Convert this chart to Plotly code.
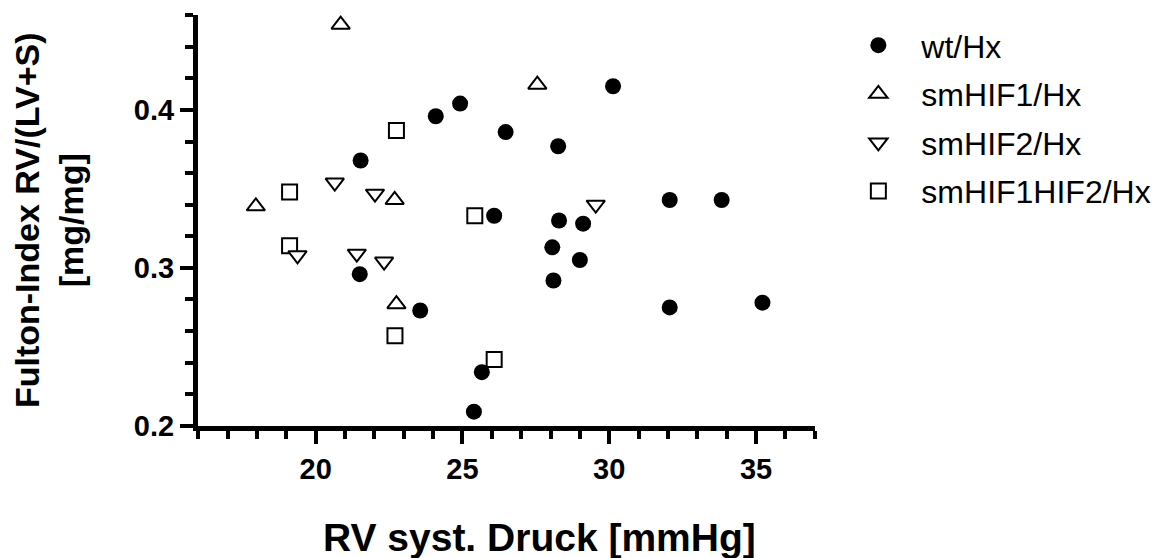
import plotly.graph_objects as go

# ---- data ----
wt_x = [21.5, 21.53, 23.56, 24.09, 24.92, 25.39, 25.66, 26.08, 26.47, 28.06,
        28.1, 28.26, 28.29, 29.0, 29.11, 30.13, 32.06, 32.06, 33.83, 35.22]
wt_y = [0.296, 0.368, 0.273, 0.396, 0.404, 0.209, 0.234, 0.333, 0.386, 0.313,
        0.292, 0.377, 0.330, 0.305, 0.328, 0.415, 0.343, 0.275, 0.343, 0.278]

hif1_x = [17.96, 20.85, 22.69, 22.75, 27.55]
hif1_y = [0.339, 0.454, 0.343, 0.277, 0.416]

hif2_x = [19.38, 20.65, 21.4, 22.02, 22.33, 29.54]
hif2_y = [0.308, 0.354, 0.309, 0.347, 0.304, 0.340]

both_x = [19.11, 19.11, 22.75, 22.7, 25.42, 26.08]
both_y = [0.348, 0.314, 0.387, 0.257, 0.333, 0.242]

names = ["wt/Hx", "smHIF1/Hx", "smHIF2/Hx", "smHIF1HIF2/Hx"]
x_title = "RV syst. Druck [mmHg]"
y_title = "Fulton-Index RV/(LV+S)<br>[mg/mg]"

FONT = "Liberation Sans, Arial, sans-serif"

fig = go.Figure()

# draw order: squares, down-triangles, up-triangles, circles; legend order via legendrank
fig.add_trace(go.Scatter(
    x=both_x, y=both_y, mode="markers", name=names[3], legendgroup="d", legendrank=4,
    marker=dict(symbol="square", size=15, color="white",
                line=dict(color="black", width=2))))
fig.add_trace(go.Scatter(
    x=hif2_x, y=hif2_y, mode="markers", name=names[2], legendgroup="c", legendrank=3,
    marker=dict(symbol="triangle-down", size=16, color="white",
                line=dict(color="black", width=2))))
fig.add_trace(go.Scatter(
    x=hif1_x, y=hif1_y, mode="markers", name=names[1], legendgroup="b", legendrank=2,
    marker=dict(symbol="triangle-up", size=16, color="white",
                line=dict(color="black", width=2))))
fig.add_trace(go.Scatter(
    x=wt_x, y=wt_y, mode="markers", name=names[0], legendgroup="a", legendrank=1,
    marker=dict(symbol="circle", size=16, color="black",
                line=dict(color="black", width=0))))

axis_common = dict(
    showline=True, linecolor="black", linewidth=5,
    ticks="outside", ticklen=13, tickwidth=4, tickcolor="black",
    showgrid=False, zeroline=False,
    tickfont=dict(family=FONT, size=29, color="black", weight="bold"),
)

fig.update_xaxes(range=[15.99, 37.01], tick0=20, dtick=5,
                 minor=dict(dtick=1, tick0=0, ticklen=8, tickwidth=3.5,
                            tickcolor="black", ticks="outside", showgrid=False),
                 **axis_common)
fig.update_yaxes(range=[0.1999, 0.4601], tick0=0.2, dtick=0.1, tickformat=".1f",
                 minor=dict(dtick=0.02, tick0=0.2, ticklen=8, tickwidth=3.5,
                            tickcolor="black", ticks="outside", showgrid=False),
                 **axis_common)

fig.update_layout(
    width=1164, height=550,
    margin=dict(l=190, r=357, t=7, b=132),
    paper_bgcolor="white", plot_bgcolor="white",
    showlegend=True,
    legend=dict(x=1.033, y=0.993, xanchor="left", yanchor="top",
                traceorder="grouped", tracegroupgap=4,
                itemwidth=76,
                font=dict(family=FONT, size=32, color="black"),
                bgcolor="rgba(0,0,0,0)", borderwidth=0),
    annotations=[
        dict(text=x_title, xref="paper", yref="paper", x=0.5527, y=-0.2725,
             xanchor="center", yanchor="middle", showarrow=False,
             font=dict(family=FONT, size=39, color="black", weight="bold")),
        dict(text=y_title, xref="paper", yref="paper", x=-0.2415, y=0.501,
             xanchor="center", yanchor="middle", showarrow=False, textangle=-90,
             font=dict(family=FONT, size=34, color="black", weight="bold")),
    ],
)

fig.write_html("out.html")
